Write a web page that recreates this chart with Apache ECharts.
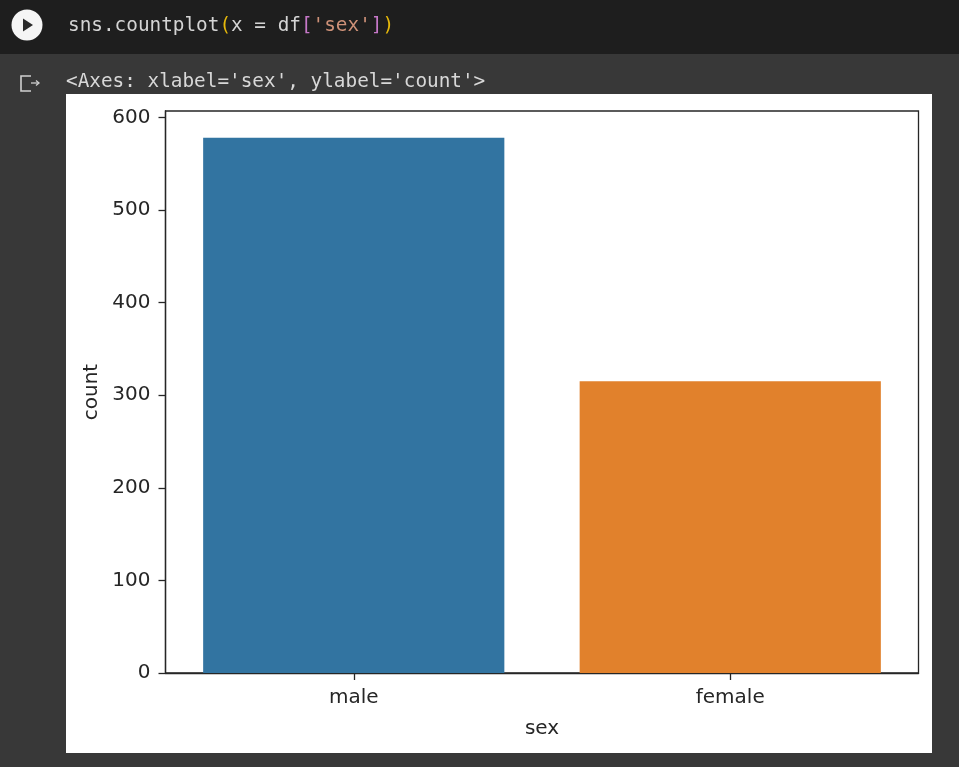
<!DOCTYPE html>
<html>
<head>
<meta charset="utf-8">
<style>html,body{margin:0;padding:0;background:#383838;}#c{width:959px;height:767px;}</style>
<script src="https://cdn.jsdelivr.net/npm/echarts@6/dist/echarts.min.js"></script>
</head>
<body>
<div id="c"></div>
<script>
const categories = ['male', 'female'];
const counts = [578, 315];
const barColors = ['#3274a1', '#e1812c'];
const yTicks = [0, 100, 200, 300, 400, 500, 600];
const xName = 'sex';
const yName = 'count';
const outputLine = "<Axes: xlabel='sex', ylabel='count'>";

const chart = echarts.init(document.getElementById('c'), null, {renderer: 'canvas'});
const sans = '"DejaVu Sans", sans-serif';
const mono = '"DejaVu Sans Mono", monospace';
const ink = '#262626';
const codeFont = '19.35px ' + mono;
chart.setOption({
  animation: false,
  backgroundColor: '#383838',
  graphic: [
    {type: 'rect', z: -10, shape: {x: 0, y: 0, width: 959, height: 54}, style: {fill: '#1e1e1e'}},
    {type: 'rect', z: -10, shape: {x: 66, y: 94, width: 866, height: 659}, style: {fill: '#ffffff'}},
    {type: 'circle', z: 5, shape: {cx: 27, cy: 25, r: 15.5}, style: {fill: '#f5f5f5'}},
    {type: 'polygon', z: 6, shape: {points: [[23, 18.5], [33, 25], [23, 31.5]]}, style: {fill: '#2a2a2a'}},
    {type: 'polyline', z: 5, shape: {points: [[31, 76], [21, 76], [21, 91], [31, 91]]}, style: {fill: 'none', stroke: '#cfcfcf', lineWidth: 1.6}},
    {type: 'polyline', z: 5, shape: {points: [[31, 83], [39, 83]]}, style: {fill: 'none', stroke: '#cfcfcf', lineWidth: 1.3}},
    {type: 'polyline', z: 5, shape: {points: [[36, 80.5], [39, 83], [36, 85.5]]}, style: {fill: 'none', stroke: '#cfcfcf', lineWidth: 1.3}},
    {type: 'text', z: 5, x: 68, y: 16, style: {
      text: '{w|sns.countplot}{y|(}{w|x = df}{m|[}{s|\'sex\'}{m|]}{y|)}',
      font: codeFont,
      rich: {
        w: {fill: '#d4d4d4', font: codeFont},
        y: {fill: '#e5b80b', font: codeFont},
        m: {fill: '#c678c8', font: codeFont},
        s: {fill: '#ce9178', font: codeFont}
      }
    }},
    {type: 'text', z: 5, x: 66, y: 72, style: {text: outputLine, fill: '#d8d8d8', font: codeFont}}
  ],
  grid: {left: 165.5, top: 111, width: 753, height: 562, show: true, borderColor: ink, borderWidth: 1.3, backgroundColor: 'transparent'},
  xAxis: {
    type: 'category',
    data: categories,
    name: xName,
    nameLocation: 'middle',
    nameGap: 46,
    nameTextStyle: {color: ink, fontFamily: sans, fontSize: 20},
    axisLine: {show: true, lineStyle: {color: ink, width: 1.3}},
    axisTick: {show: true, alignWithLabel: true, length: 7, lineStyle: {color: ink, width: 1.3}},
    axisLabel: {color: ink, fontFamily: sans, fontSize: 20, margin: 15}
  },
  yAxis: {
    type: 'value',
    min: 0,
    max: 607,
    name: yName,
    nameLocation: 'middle',
    nameGap: 64,
    nameTextStyle: {color: ink, fontFamily: sans, fontSize: 20},
    splitLine: {show: false},
    axisLine: {show: true, lineStyle: {color: ink, width: 1.3}},
    axisTick: {show: true, length: 7, customValues: yTicks, lineStyle: {color: ink, width: 1.3}},
    axisLabel: {
      color: ink, fontFamily: sans, fontSize: 20, margin: 15,
      customValues: yTicks
    }
  },
  series: [{
    type: 'bar',
    barWidth: '80%',
    data: counts.map((v, i) => ({value: v, itemStyle: {color: barColors[i]}}))
  }]
});
</script>
</body>
</html>
